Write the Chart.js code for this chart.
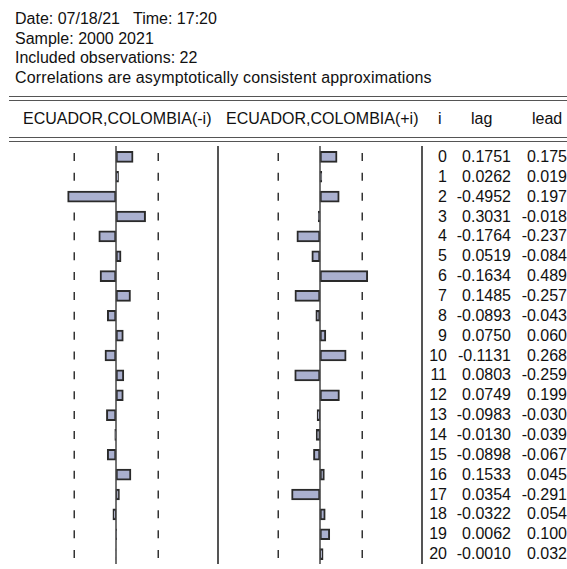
<!DOCTYPE html>
<html>
<head>
<meta charset="utf-8">
<script src="https://cdn.jsdelivr.net/npm/chart.js@4.4.1/dist/chart.umd.min.js"></script>
<style>
    body { margin: 0; background: #fff; }
    #wrap { position: relative; width: 567px; height: 569px; overflow: hidden; font-family: "Liberation Sans", Arial, sans-serif; font-size: 16px; color: #111; }
    .t { position: absolute; white-space: nowrap; line-height: 20px; }
    .rule { position: absolute; left: 9px; right: 0; height: 0; border-top: 1.5px solid #555; }
    .vsep { position: absolute; top: 146px; height: 418px; width: 0; border-left: 2px solid #555; }
    canvas { position: absolute; top: 0; }
    .num { text-align: right; }
</style>
</head>
<body>
<div id="wrap">
    <div class="t" style="left:15px; top:9px;">Date: 07/18/21&nbsp;&nbsp; Time: 17:20</div>
    <div class="t" style="left:15px; top:29px;">Sample: 2000 2021</div>
    <div class="t" style="left:15px; top:48px;">Included observations: 22</div>
    <div class="t" style="left:15px; top:68px; letter-spacing:0.15px;">Correlations are asymptotically consistent approximations</div>

    <div class="rule" style="top:96px;"></div>
    <div class="rule" style="top:99.5px;"></div>
    <div class="t" style="left:23px; top:109px;">ECUADOR,COLOMBIA(-i)</div>
    <div class="t" style="left:226px; top:109px;">ECUADOR,COLOMBIA(+i)</div>
    <div class="t" style="left:438px; top:109px;">i</div>
    <div class="t" style="left:471px; top:109px;">lag</div>
    <div class="t" style="left:532px; top:109px;">lead</div>
    <div class="rule" style="top:137px;"></div>
    <div class="rule" style="top:140.5px;"></div>

    <div class="vsep" style="left:217px;"></div>
    <div class="vsep" style="left:421px;"></div>

    <canvas id="lagChart"></canvas>
    <canvas id="leadChart"></canvas>
    <div id="table"></div>
</div>

<script>
// lags i = 0..20
const lags = [0, 1, 2, 3, 4, 5, 6, 7, 8, 9, 10, 11, 12, 13, 14, 15, 16, 17, 18, 19, 20];
// ECUADOR,COLOMBIA(-i)
const lagValues = [0.1751, 0.0262, -0.4952, 0.3031, -0.1764, 0.0519, -0.1634, 0.1485, -0.0893, 0.0750,
    -0.1131, 0.0803, 0.0749, -0.0983, -0.0130, -0.0898, 0.1533, 0.0354, -0.0322, 0.0062, -0.0010];
// ECUADOR,COLOMBIA(+i)
const leadValues = [0.175, 0.019, 0.197, -0.018, -0.237, -0.084, 0.489, -0.257, -0.043, 0.060,
    0.268, -0.259, 0.199, -0.030, -0.039, -0.067, 0.045, -0.291, 0.054, 0.100, 0.032];
const observations = 22;
const band = 2 / Math.sqrt(observations);

// geometry of the picture
const pxPerUnit = 97.7;
const rowTop = 147;
const rowBottom = 564;
const rowH = (rowBottom - rowTop) / lags.length;

// +-2/sqrt(n) dashes under the bars, zero line over them
const correlogramLines = {
    id: 'correlogramLines',
    beforeDatasetsDraw(chart) {
        const ctx = chart.ctx;
        const x = chart.scales.x;
        const y = chart.scales.y;
        ctx.save();
        ctx.strokeStyle = '#333';
        ctx.lineWidth = 1.5;
        [-band, band].forEach(b => {
            const px = Math.round(x.getPixelForValue(b)) + 0.25;
            lags.forEach((l, i) => {
                const cy = y.getPixelForValue(i);
                ctx.beginPath();
                ctx.moveTo(px, cy - 4);
                ctx.lineTo(px, cy + 4);
                ctx.stroke();
            });
        });
        ctx.restore();
    },
    afterDatasetsDraw(chart) {
        const ctx = chart.ctx;
        const zx = chart.scales.x.getPixelForValue(0);
        ctx.save();
        ctx.strokeStyle = '#444';
        ctx.lineWidth = 1.5;
        ctx.beginPath();
        ctx.moveTo(zx, chart.chartArea.top - 1);
        ctx.lineTo(zx, chart.chartArea.bottom);
        ctx.stroke();
        ctx.restore();
    }
};

function makeChart(id, left, width, zeroX, values) {
    const canvas = document.getElementById(id);
    canvas.style.left = left + 'px';
    canvas.width = width;
    canvas.height = 569;
    canvas.style.width = width + 'px';
    canvas.style.height = '569px';
    return new Chart(canvas.getContext('2d'), {
        type: 'bar',
        data: {
            labels: lags.map(String),
            datasets: [{
                data: values,
                backgroundColor: '#aab0cf',
                borderColor: '#2a2a2a',
                borderWidth: 2,
                borderSkipped: false,
                barThickness: 11
            }]
        },
        options: {
            indexAxis: 'y',
            responsive: false,
            animation: false,
            layout: { padding: { top: rowTop, bottom: 569 - rowBottom, left: 0, right: 0 } },
            plugins: { legend: { display: false }, tooltip: { enabled: false } },
            scales: {
                x: { display: false, min: -(zeroX - left) / pxPerUnit, max: (left + width - zeroX) / pxPerUnit },
                y: { display: false }
            }
        },
        plugins: [correlogramLines]
    });
}

makeChart('lagChart', 0, 216, 116, lagValues);
makeChart('leadChart', 219, 202, 320, leadValues);

// numeric table on the right
const table = document.getElementById('table');
lags.forEach((l, i) => {
    const top = rowTop + i * rowH + rowH / 2 - 10;
    table.innerHTML += `<div class="t num" style="top:${top}px; right:${567 - 447}px;">${l}</div>`
        + `<div class="t num" style="top:${top}px; right:${567 - 511}px;">${lagValues[i].toFixed(4)}</div>`
        + `<div class="t num" style="top:${top}px; right:0px;">${leadValues[i].toFixed(3)}</div>`;
});
</script>
</body>
</html>
